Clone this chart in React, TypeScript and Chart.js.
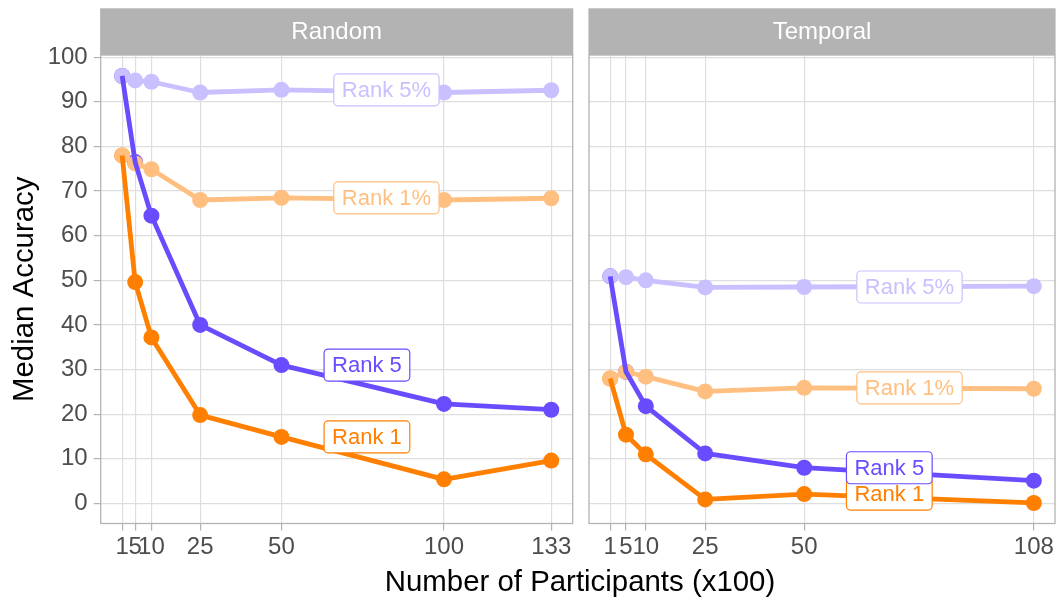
import React, { useEffect, useRef } from 'react';
import { Chart, registerables } from 'chart.js';

Chart.register(...registerables);

const FONT = '"Liberation Sans", Arial, Helvetica, sans-serif';
const W = 1063;
const H = 598;

// Number of participants (x100) at which accuracy was measured
const randomX = [1, 5, 10, 25, 50, 100, 133];
const temporalX = [1, 5, 10, 25, 50, 108];

// Median accuracy, random split
const randomRank1 = [78.0, 49.6, 37.2, 19.8, 14.9, 5.4, 9.6];
const randomRank5 = [95.8, 76.5, 64.5, 40.0, 31.0, 22.3, 21.0];
const randomRank1Pct = [78.0, 76.2, 74.9, 68.0, 68.5, 68.0, 68.4];
const randomRank5Pct = [95.8, 94.8, 94.5, 92.1, 92.7, 92.1, 92.6];

// Median accuracy, temporal split
const temporalRank1 = [28.0, 15.4, 11.0, 0.9, 2.1, 0.1];
const temporalRank5 = [50.9, 29.5, 21.8, 11.2, 8.0, 5.1];
const temporalRank1Pct = [28.0, 29.5, 28.4, 25.1, 25.9, 25.7];
const temporalRank5Pct = [50.9, 50.7, 50.0, 48.4, 48.5, 48.7];

const yTicks = [0, 10, 20, 30, 40, 50, 60, 70, 80, 90, 100];

const seriesNames = ['Rank 1', 'Rank 5', 'Rank 1%', 'Rank 5%'];
const seriesColors = ['#FF7F00', '#6A4CFF', '#FFBF80', '#C9C0FF'];

// Horizontal placement of the series name tags; they sit at the height of the x = 50 point
const randomLabelX = [76.3, 76.3, 82.3, 82.3];
const temporalLabelX = [71.5, 71.5, 76.6, 76.6];
const labelAtX = 50;

// Panel layout
const STRIP_TOP = 8.3;
const PLOT_TOP = 55;
const PLOT_BOTTOM = 523.5;
const Y_MIN = -4.5;
const Y_MAX = 100.5;

type Panel = {
  name: string;
  xs: number[];
  series: number[][];
  labelX: number[];
  left: number;
  right: number;
  first: boolean;
};

const panels: Panel[] = [
  {
    name: 'Random',
    xs: randomX,
    series: [randomRank1, randomRank5, randomRank1Pct, randomRank5Pct],
    labelX: randomLabelX,
    left: 100.7,
    right: 572.7,
    first: true,
  },
  {
    name: 'Temporal',
    xs: temporalX,
    series: [temporalRank1, temporalRank5, temporalRank1Pct, temporalRank5Pct],
    labelX: temporalLabelX,
    left: 589,
    right: 1061,
    first: false,
  },
];

function roundRect(ctx: CanvasRenderingContext2D, x: number, y: number, w: number, h: number, r: number) {
  ctx.beginPath();
  ctx.moveTo(x + r, y);
  ctx.lineTo(x + w - r, y);
  ctx.arcTo(x + w, y, x + w, y + r, r);
  ctx.lineTo(x + w, y + h - r);
  ctx.arcTo(x + w, y + h, x + w - r, y + h, r);
  ctx.lineTo(x + r, y + h);
  ctx.arcTo(x, y + h, x, y + h - r, r);
  ctx.lineTo(x, y + r);
  ctx.arcTo(x, y, x + r, y, r);
  ctx.closePath();
}

function makeChart(canvas: HTMLCanvasElement, panel: Panel) {
  const lo = Math.min(...panel.xs);
  const hi = Math.max(...panel.xs);
  const span = hi - lo;
  const xMin = lo - 0.05 * span;
  const xMax = hi + 0.05 * span;

  const series = (i: number, withLine: boolean, withPoints: boolean) => ({
    label: seriesNames[i],
    data: panel.xs.map((x, j) => ({ x, y: panel.series[i][j] })),
    borderColor: seriesColors[i],
    backgroundColor: seriesColors[i],
    pointBackgroundColor: seriesColors[i],
    pointBorderWidth: 0,
    pointRadius: withPoints ? 8 : 0,
    pointHoverRadius: 0,
    showLine: withLine,
    borderWidth: 4.8,
    borderJoinStyle: 'round' as const,
    tension: 0,
  });

  // Chart.js paints the first dataset last: dark lines on top, then the
  // light series, with the dark markers underneath them.
  const datasets = [
    series(0, true, false),
    series(1, true, false),
    series(2, true, true),
    series(3, true, true),
    series(0, false, true),
    series(1, false, true),
  ];

  const facetPlugin = {
    id: 'facet-' + panel.name,
    afterDatasetsDraw(chart: any) {
      const { ctx, scales } = chart;
      const xs = scales.x;
      const ys = scales.y;
      const idx = panel.xs.indexOf(labelAtX);
      ctx.save();
      ctx.font = `22px ${FONT}`;
      ctx.textAlign = 'center';
      ctx.textBaseline = 'middle';
      for (const i of [3, 2, 0, 1]) {
        const cx = xs.getPixelForValue(panel.labelX[i]);
        const cy = ys.getPixelForValue(panel.series[i][idx]);
        const tw = ctx.measureText(seriesNames[i]).width;
        const bw = tw + 16;
        const bh = 32;
        roundRect(ctx, cx - bw / 2, cy - bh / 2, bw, bh, 4);
        ctx.fillStyle = '#FFFFFF';
        ctx.fill();
        ctx.lineWidth = 1.2;
        ctx.strokeStyle = seriesColors[i];
        ctx.stroke();
        ctx.fillStyle = seriesColors[i];
        ctx.fillText(seriesNames[i], cx, cy + 1);
      }
      ctx.restore();
    },
    afterDraw(chart: any) {
      const { ctx, chartArea: a } = chart;
      ctx.save();
      // facet strip
      ctx.fillStyle = '#B3B3B3';
      ctx.fillRect(a.left - 0.6, STRIP_TOP, a.right - a.left + 1.2, a.top - STRIP_TOP);
      ctx.fillStyle = '#FFFFFF';
      ctx.font = `24px ${FONT}`;
      ctx.textAlign = 'center';
      ctx.textBaseline = 'middle';
      ctx.fillText(panel.name, (a.left + a.right) / 2, (STRIP_TOP + a.top) / 2 + 1);
      // panel border
      ctx.strokeStyle = '#B3B3B3';
      ctx.lineWidth = 1.3;
      ctx.strokeRect(a.left, a.top, a.right - a.left, a.bottom - a.top);

      if (panel.first) {
        ctx.fillStyle = '#000000';
        ctx.font = `29.4px ${FONT}`;
        ctx.textAlign = 'center';
        ctx.textBaseline = 'alphabetic';
        ctx.fillText('Number of Participants (x100)', 580, 591);
        ctx.translate(33, (a.top + a.bottom) / 2);
        ctx.rotate(-Math.PI / 2);
        ctx.fillText('Median Accuracy', 0, 0);
      }
      ctx.restore();
    },
  };

  return new Chart(canvas, {
    type: 'line',
    data: { datasets },
    plugins: [facetPlugin],
    options: {
      animation: false,
      responsive: false,
      devicePixelRatio: 1,
      events: [],
      layout: {
        padding: {
          left: panel.first ? 0 : panel.left,
          right: W - panel.right,
          top: PLOT_TOP,
          bottom: 0,
        },
      },
      plugins: {
        legend: { display: false },
        tooltip: { enabled: false },
      },
      scales: {
        x: {
          type: 'linear',
          min: xMin,
          max: xMax,
          afterBuildTicks: (s: any) => {
            s.ticks = panel.xs.map((v) => ({ value: v }));
          },
          afterFit: (s: any) => {
            s.height = H - PLOT_BOTTOM;
          },
          ticks: {
            autoSkip: false,
            maxRotation: 0,
            minRotation: 0,
            padding: 2,
            color: '#4D4D4D',
            font: { family: FONT, size: 24 },
            callback: (v: any) => String(v),
          },
          grid: {
            color: '#DEDEDE',
            lineWidth: 1.2,
            tickColor: '#B3B3B3',
            tickLength: 7,
            tickWidth: 1.2,
          },
          border: { display: false },
        },
        y: {
          type: 'linear',
          min: Y_MIN,
          max: Y_MAX,
          afterBuildTicks: (s: any) => {
            s.ticks = yTicks.map((v) => ({ value: v }));
          },
          afterFit: (s: any) => {
            s.width = panel.first ? panel.left : 0;
          },
          ticks: {
            display: panel.first,
            padding: 6,
            color: '#4D4D4D',
            font: { family: FONT, size: 24 },
            callback: (v: any) => String(v),
          },
          grid: {
            color: '#DEDEDE',
            lineWidth: 1.2,
            tickColor: '#B3B3B3',
            tickLength: 7,
            tickWidth: 1.2,
            drawTicks: panel.first,
          },
          border: { display: false },
        },
      },
    } as any,
  });
}

export default function App() {
  const leftRef = useRef<HTMLCanvasElement>(null);
  const rightRef = useRef<HTMLCanvasElement>(null);

  useEffect(() => {
    const charts = [
      makeChart(leftRef.current as HTMLCanvasElement, panels[0]),
      makeChart(rightRef.current as HTMLCanvasElement, panels[1]),
    ];
    return () => charts.forEach((c) => c.destroy());
  }, []);

  const canvasStyle: React.CSSProperties = { position: 'absolute', left: 0, top: 0, width: W, height: H };

  return (
    <div style={{ position: 'absolute', left: 0, top: 0, width: W, height: H, background: '#FFFFFF' }}>
      <canvas ref={leftRef} width={W} height={H} style={canvasStyle} />
      <canvas ref={rightRef} width={W} height={H} style={canvasStyle} />
    </div>
  );
}
